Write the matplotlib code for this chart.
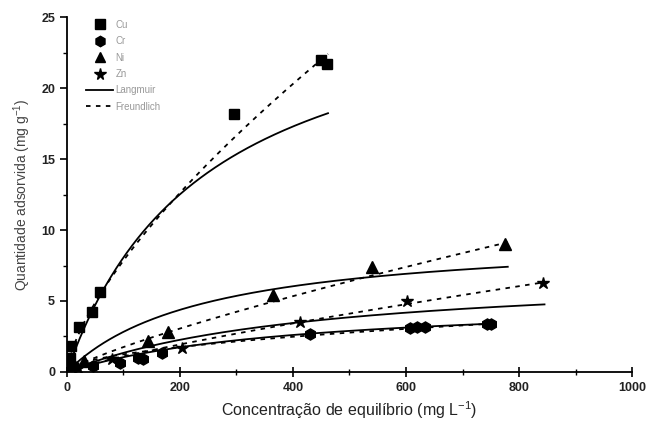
import numpy as np
import matplotlib
matplotlib.use("Agg")
import matplotlib.pyplot as plt
from matplotlib.lines import Line2D
from matplotlib.ticker import MultipleLocator

# Experimental data (Ce, qe)
cu_x = [5, 8, 21, 44, 58, 295, 450, 460]
cu_y = [1.0, 1.8, 3.2, 4.2, 5.6, 18.2, 22.0, 21.7]
cr_x = [10, 46, 94, 126, 134, 168, 430, 607, 620, 634, 743, 750]
cr_y = [0.5, 0.4, 0.6, 1.0, 0.9, 1.3, 2.7, 3.1, 3.15, 3.15, 3.35, 3.35]
ni_x = [10, 30, 143, 179, 365, 540, 775]
ni_y = [0.5, 0.8, 2.2, 2.8, 5.4, 7.4, 9.0]
zn_x = [20, 80, 204, 412, 602, 843]
zn_y = [0.3, 0.9, 1.7, 3.5, 5.0, 6.3]

# Fitted model parameters: [qm, KL] for Langmuir, [KF, 1/n] for Freundlich, and curve end
metals = ["Cu", "Cr", "Ni", "Zn"]
langmuir_qm = [28.0, 5.21, 9.74, 7.23]
langmuir_k = [0.00404, 0.0025, 0.00408, 0.00228]
freund_kf = [0.333, 0.124, 0.0432, 0.025]
freund_b = [0.686, 0.5, 0.804, 0.821]
curve_end = [462, 752, 780, 845]

fig = plt.figure(figsize=(6.49, 4.29), dpi=100)
ax = fig.add_axes([0.103, 0.133, 0.871, 0.827])

for qm, k, kf, b, xe in zip(langmuir_qm, langmuir_k, freund_kf, freund_b, curve_end):
    c = np.linspace(0, xe, 300)
    ax.plot(c, qm * k * c / (1 + k * c), color="black", lw=1.3)
    ax.plot(c, kf * c ** b, color="black", lw=1.3, ls=(0, (2.5, 3)))

ms = 7
ax.plot(cu_x, cu_y, ls="none", marker="s", color="black", ms=ms)
ax.plot(cr_x, cr_y, ls="none", marker="h", color="black", ms=ms + 1)
ax.plot(ni_x, ni_y, ls="none", marker="^", color="black", ms=ms + 1)
ax.plot(zn_x, zn_y, ls="none", marker="*", color="black", ms=ms + 2)

ax.set_xlim(0, 1000)
ax.set_ylim(0, 25)
ax.xaxis.set_major_locator(MultipleLocator(200))
ax.xaxis.set_minor_locator(MultipleLocator(100))
ax.yaxis.set_major_locator(MultipleLocator(5))
ax.yaxis.set_minor_locator(MultipleLocator(2.5))

for s in ["top", "right"]:
    ax.spines[s].set_visible(False)
for s in ["left", "bottom"]:
    ax.spines[s].set_linewidth(1.3)

ax.tick_params(axis="x", which="major", direction="inout", length=7, width=1.2)
ax.tick_params(axis="x", which="minor", direction="inout", length=4, width=1.0)
ax.tick_params(axis="y", which="major", direction="out", length=5, width=1.2)
ax.tick_params(axis="y", which="minor", direction="out", length=3, width=1.0)
for lab in ax.get_xticklabels() + ax.get_yticklabels():
    lab.set_fontfamily("Liberation Sans")
    lab.set_fontweight("bold")
    lab.set_fontsize(9)
    lab.set_color("#222222")

ax.set_xlabel("Concentração de equilíbrio (mg L$^{\\mathregular{-1}}$)",
              fontfamily="Liberation Sans", fontsize=11.5, color="#222222", labelpad=4)
ax.set_ylabel("Quantidade adsorvida (mg g$^{\\mathregular{-1}}$)",
              fontfamily="Liberation Sans", fontsize=10, color="#444444", labelpad=6)

handles = [
    Line2D([], [], ls="none", marker="s", color="black", ms=6.5),
    Line2D([], [], ls="none", marker="h", color="black", ms=7.5),
    Line2D([], [], ls="none", marker="^", color="black", ms=7.5),
    Line2D([], [], ls="none", marker="*", color="black", ms=8.5),
    Line2D([], [], color="black", lw=1.3),
    Line2D([], [], color="black", lw=1.3, ls=(0, (2.5, 3))),
]
labels = metals + ["Langmuir", "Freundlich"]
leg = ax.legend(handles, labels, loc="upper left", bbox_to_anchor=(0.022, 1.012),
                frameon=False, prop={"family": "Liberation Sans", "size": 7},
                labelspacing=0.66, handlelength=2.8, handletextpad=0.2,
                borderaxespad=0.3)
for t in leg.get_texts():
    t.set_color("#999999")

fig.savefig("out.png", dpi=100)
